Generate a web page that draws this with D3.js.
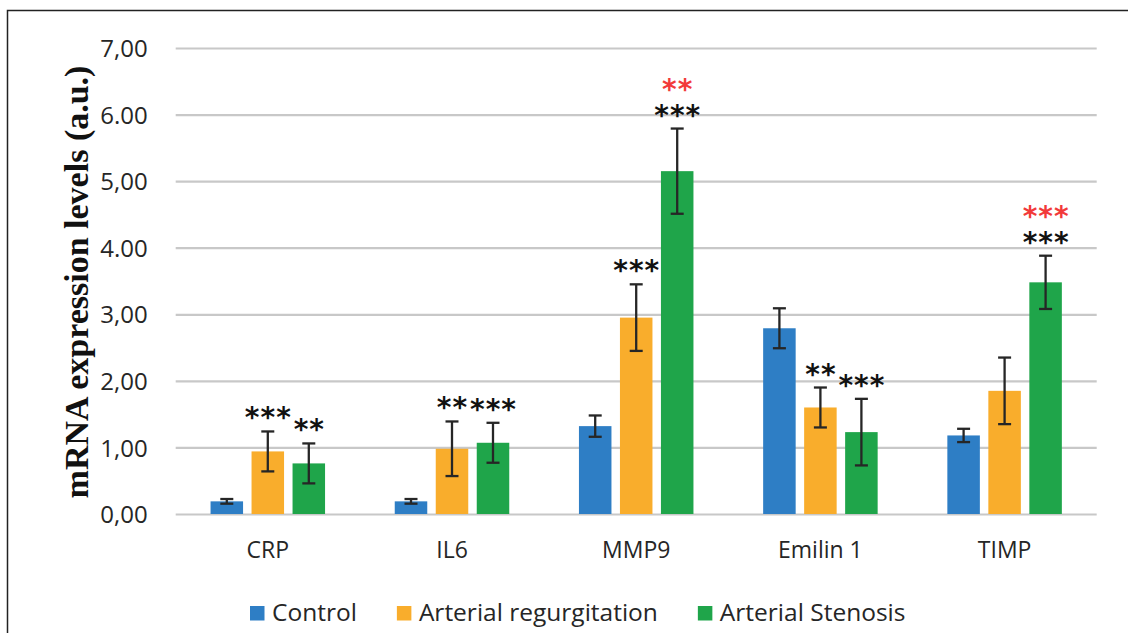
<!DOCTYPE html>
<html>
<head>
<meta charset="utf-8">
<script src="https://cdn.jsdelivr.net/npm/d3@7"></script>
<style>
  html, body { margin: 0; padding: 0; background: #fff; }
  svg { display: block; }
</style>
</head>
<body>
<svg id="chart" width="1128" height="633"></svg>
<script>
// ---- data ----
const categories = ["CRP", "IL6", "MMP9", "Emilin 1", "TIMP"];
const series = ["Control", "Arterial regurgitation", "Arterial Stenosis"];
const controlValues = [0.19, 0.19, 1.32, 2.79, 1.18];
const controlErrors = [0.035, 0.035, 0.16, 0.30, 0.10];
const regurgitationValues = [0.94, 0.98, 2.95, 1.60, 1.85];
const regurgitationErrors = [0.30, 0.41, 0.50, 0.30, 0.50];
const stenosisValues = [0.76, 1.07, 5.15, 1.23, 3.48];
const stenosisErrors = [0.30, 0.30, 0.64, 0.50, 0.40];
const regurgitationSig = ["***", "**", "***", "**", ""];
const stenosisSig = ["**", "***", "***", "***", "***"];
const stenosisVsRegurgitationSig = ["", "", "**", "", "***"];
const yTickValues = [0, 1, 2, 3, 4, 5, 6, 7];
const yTickLabels = ["0,00", "1,00", "2,00", "3,00", "4.00", "5,00", "6.00", "7,00"];
const yTitle = "mRNA expression levels (a.u.)";
const colors = ["#2e7ec5", "#f9ad2c", "#1fa54a"];

(function () {
const valuesBySeries = [controlValues, regurgitationValues, stenosisValues];
const errorsBySeries = [controlErrors, regurgitationErrors, stenosisErrors];
const sigBySeries = [null, regurgitationSig, stenosisSig];

const rows = [];
categories.forEach((c, i) => {
  series.forEach((s, j) => {
    rows.push({ cat: c, ser: s, si: j, v: valuesBySeries[j][i], e: errorsBySeries[j][i],
      sig: sigBySeries[j] ? sigBySeries[j][i] : "",
      sig2: j === 2 ? stenosisVsRegurgitationSig[i] : "" });
  });
});

// ---- layout ----
const svg = d3.select("#chart");
const pLeft = 175.7, pRight = 1096.7, pTop = 48, pBottom = 514;

const x0 = d3.scaleBand().domain(categories).range([pLeft, pRight]).padding(0);
const x1 = d3.scaleBand().domain(series).range([0, x0.bandwidth()])
  .paddingInner(0.207).paddingOuter(0.85);
const y = d3.scaleLinear().domain([0, 7]).range([pBottom, pTop]);
const color = d3.scaleOrdinal().domain(series).range(colors);

// frame
svg.append("rect").attr("x", 7.5).attr("y", 10.5).attr("width", 1200).attr("height", 700)
  .attr("fill", "none").attr("stroke", "#222").attr("stroke-width", 1.5);

// gridlines + y labels via axis
const yAxis = d3.axisLeft(y).tickValues(yTickValues)
  .tickFormat((d, i) => yTickLabels[i]).tickSize(-(pRight - pLeft)).tickPadding(28);
const gy = svg.append("g").attr("transform", `translate(${pLeft},0)`).call(yAxis);
gy.select(".domain").remove();
gy.selectAll(".tick line").attr("stroke", "#c8c8c8").attr("stroke-width", 2.2);
gy.selectAll(".tick text")
  .attr("font-family", "'Open Sans', sans-serif").attr("font-size", 24)
  .attr("fill", "#262626").attr("dy", "0.36em");

// x axis labels
const xAxis = d3.axisBottom(x0).tickSize(0).tickPadding(0);
const gx = svg.append("g").attr("transform", `translate(0,${pBottom})`).call(xAxis);
gx.select(".domain").remove();
gx.selectAll(".tick text")
  .attr("font-family", "'Open Sans', sans-serif").attr("font-size", 23)
  .attr("fill", "#262626").attr("dy", null).attr("y", 44);

// bars
const groups = svg.append("g").selectAll("g").data(rows).join("g")
  .attr("transform", d => `translate(${x0(d.cat) + x1(d.ser)},0)`);
groups.append("rect")
  .attr("x", 0).attr("width", x1.bandwidth())
  .attr("y", d => y(d.v)).attr("height", d => y(0) - y(d.v))
  .attr("fill", d => color(d.ser));

// error bars
const cw = 6.5, bw = x1.bandwidth() / 2;
const eb = groups.append("g").attr("stroke", "#262626").attr("stroke-width", 2.3);
eb.append("line").attr("x1", bw).attr("x2", bw)
  .attr("y1", d => y(d.v + d.e)).attr("y2", d => y(d.v - d.e));
eb.append("line").attr("x1", bw - cw).attr("x2", bw + cw)
  .attr("y1", d => y(d.v + d.e)).attr("y2", d => y(d.v + d.e));
eb.append("line").attr("x1", bw - cw).attr("x2", bw + cw)
  .attr("y1", d => y(d.v - d.e)).attr("y2", d => y(d.v - d.e));

// significance asterisks
const ls = 1;
groups.filter(d => d.sig).append("text")
  .attr("x", bw + ls / 2).attr("y", d => y(d.v + d.e) - 4)
  .attr("text-anchor", "middle")
  .attr("font-family", "'DejaVu Sans', sans-serif").attr("font-weight", "bold")
  .attr("font-size", 28)
  .attr("letter-spacing", ls).attr("fill", "#111")
  .text(d => d.sig);
groups.filter(d => d.sig2).append("text")
  .attr("x", bw + ls / 2).attr("y", d => y(d.v + d.e) - 30)
  .attr("text-anchor", "middle")
  .attr("font-family", "'DejaVu Sans', sans-serif").attr("font-weight", "bold")
  .attr("font-size", 28)
  .attr("letter-spacing", ls).attr("fill", "#f23a3a")
  .text(d => d.sig2);

// y title
svg.append("text")
  .attr("transform", `translate(88,282) rotate(-90)`)
  .attr("text-anchor", "middle")
  .attr("font-family", "'Liberation Serif', 'Times New Roman', serif")
  .attr("font-weight", "bold").attr("font-size", 34).attr("fill", "#111")
  .text(yTitle);

// legend
const legend = svg.append("g");
let lx = 250;
series.forEach((s, i) => {
  legend.append("rect").attr("x", lx).attr("y", 606).attr("width", 14.5).attr("height", 14.5)
    .attr("fill", color(s));
  const t = legend.append("text").attr("x", lx + 22).attr("y", 621)
    .attr("font-family", "'Open Sans', sans-serif").attr("font-size", 24.5)
    .attr("fill", "#262626").text(s);
  lx += 22 + t.node().getComputedTextLength() + 40;
});
})();
</script>
</body>
</html>
